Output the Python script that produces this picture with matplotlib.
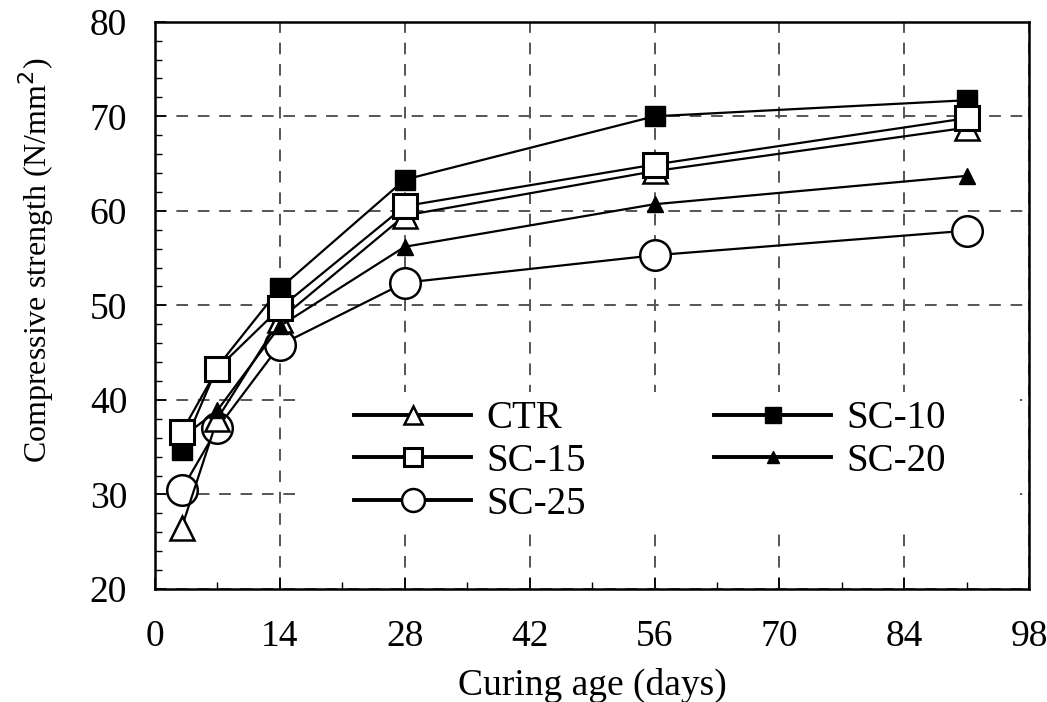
import numpy as np
import matplotlib.pyplot as plt
from matplotlib.patches import Rectangle
from matplotlib.ticker import MultipleLocator

# curing age (days) and compressive strength (N/mm2)
days = [3, 7, 14, 28, 56, 91]
ctr = [26.5, 38.0, 48.5, 59.5, 64.2, 68.8]
sc10 = [34.7, 43.5, 51.8, 63.3, 70.0, 71.7]
sc15 = [36.6, 43.3, 49.7, 60.5, 64.9, 69.8]
sc20 = [36.0, 38.9, 47.8, 56.2, 60.7, 63.7]
sc25 = [30.5, 37.0, 45.8, 52.4, 55.3, 57.9]

plt.rcParams['font.family'] = ['Liberation Serif', 'DejaVu Serif']

fig = plt.figure(figsize=(10.47, 7.02), dpi=100)
ax = fig.add_axes([0.148, 0.161, 0.835, 0.808])

lw = 1.6
ax.plot(days, sc25, '-', color='black', lw=lw, marker='o', ms=22,
        mfc='white', mec='black', mew=1.8, label='SC-25', zorder=3)
ax.plot(days, sc20, '-', color='black', lw=lw, marker='^', ms=11,
        mfc='black', mec='black', label='SC-20', zorder=4)
ax.plot(days, ctr, '-', color='black', lw=lw, marker='^', ms=17,
        mfc='white', mec='black', mew=1.8, label='CTR', zorder=3)
ax.plot(days, sc15, '-', color='black', lw=lw, marker='s', ms=17,
        mfc='white', mec='black', mew=2.2, label='SC-15', zorder=5)
ax.plot(days, sc10, '-', color='black', lw=lw, marker='s', ms=15,
        mfc='black', mec='black', label='SC-10', zorder=4)

ax.set_xlim(0, 98)
ax.set_ylim(20, 80)
ax.xaxis.set_major_locator(MultipleLocator(14))
ax.xaxis.set_minor_locator(MultipleLocator(7))
ax.yaxis.set_major_locator(MultipleLocator(10))
ax.yaxis.set_minor_locator(MultipleLocator(2))
ax.tick_params(which='both', direction='in', top=False, right=False)
ax.tick_params(which='major', length=8, width=1.2, labelsize=27)
ax.tick_params(axis='x', which='major', pad=22)
ax.tick_params(axis='y', which='major', pad=20)
ax.tick_params(which='minor', length=5, width=1.0)
ax.grid(True, which='major', linestyle=(0, (6, 5)), color='#555555', lw=1.4)
for s in ax.spines.values():
    s.set_linewidth(1.8)

ax.set_xlabel('Curing age (days)', fontsize=27, labelpad=10)
ax.set_ylabel('Compressive strength (N/mm$^2$)', fontsize=23)
ax.yaxis.set_label_coords(-0.113, 0.58)

# white box behind the legend hides the grid there
ax.add_patch(Rectangle((0.16, 0.104), 0.83, 0.243, transform=ax.transAxes,
                       facecolor='white', edgecolor='none', zorder=2))

h, l = ax.get_legend_handles_labels()
order = ['CTR', 'SC-15', 'SC-25', 'SC-10', 'SC-20']
hs = [h[l.index(o)] for o in order]
leg = ax.legend(hs, order, ncol=2, loc='lower left', bbox_to_anchor=(0.188, 0.055),
                frameon=False, fontsize=28, handlelength=3.0, columnspacing=3.3,
                labelspacing=0.15, handletextpad=0.4, markerscale=0.75)
for line in leg.get_lines():
    line.set_linewidth(2.8)

fig.savefig('out.png', dpi=100)
